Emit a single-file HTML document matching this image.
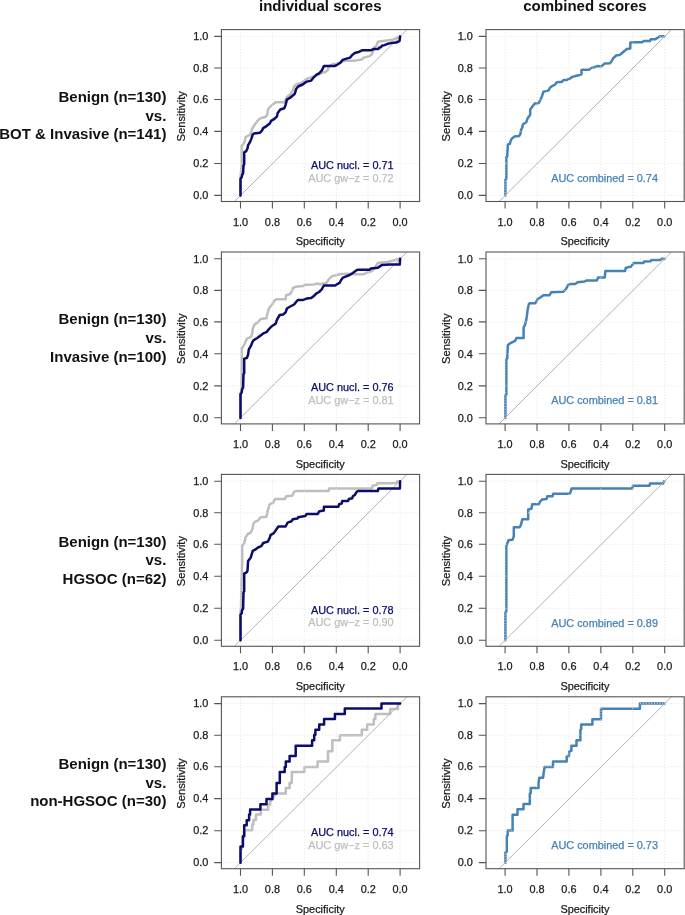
<!DOCTYPE html>
<html><head><meta charset="utf-8"><style>
html,body{margin:0;padding:0;background:#fff;}
svg{display:block;will-change:transform;}
text{font-family:"Liberation Sans",sans-serif;font-size:10.9px;fill:#1a1a1a;stroke:#1a1a1a;stroke-width:0.25px;}
.lab text{font-size:15px;font-weight:bold;text-anchor:end;fill:#111;stroke:none;}
.title{font-size:15px;font-weight:bold;fill:#111;stroke:none;}
.grid{fill:none;stroke:#e2e2e2;stroke-width:0.9;stroke-dasharray:1 1.8;}
.diag{fill:none;stroke:#b2b2b2;stroke-width:1.0;}
.frame{fill:none;stroke:#555;stroke-width:1.1;}
.tick{fill:none;stroke:#555;stroke-width:1.1;}
.cn{fill:none;stroke:#0c0c6c;stroke-width:2.5;stroke-linejoin:round;stroke-linecap:round;}
.cg{fill:none;stroke:#bebebe;stroke-width:2.5;stroke-linejoin:round;stroke-linecap:round;}
.cs{fill:none;stroke:#4682b4;stroke-width:2.5;stroke-linejoin:round;stroke-linecap:round;}
</style></head><body>
<svg width="685" height="915" viewBox="0 0 685 915">
<text class="title" x="320.3" y="10.7" text-anchor="middle">individual scores</text>
<text class="title" x="584.9" y="10.7" text-anchor="middle">combined scores</text>
<path class="cg" d="M240.5 195.5 240.5 178.0 241.6 165.0 241.6 145.8 243.5 143.9 244.9 140.6 245.5 137.3 247.5 136.0 250.1 134.7 251.4 132.1 252.1 128.8 254.1 125.5 256.0 122.9 258.0 120.2 260.6 118.3 265.2 117.0 267.2 115.0 267.8 110.1 269.8 106.9 273.1 104.2 275.7 102.3 284.3 102.3 286.9 97.0 290.2 94.4 292.8 90.4 294.1 86.5 296.8 83.9 300.7 83.2 307.3 78.6 311.2 77.3 320.0 74.0 322.6 72.7 325.3 72.0 327.9 70.0 328.5 67.4 330.5 65.4 333.1 64.1 336.0 64.0 340.0 62.5 342.3 61.5 345.0 60.8 354.2 60.8 356.8 60.2 362.0 59.5 363.4 57.6 369.3 56.2 371.9 54.3 373.2 51.0 373.9 47.7 376.5 45.7 377.8 41.8 383.1 41.1 392.3 39.8 396.9 37.9 400.1 36.4"/>
<g transform="translate(0.0 0.0)">
<path class="grid" d="M240.5 29.6V201.5M272.4 29.6V201.5M304.3 29.6V201.5M336.3 29.6V201.5M368.2 29.6V201.5M400.1 29.6V201.5M221.4 195.4H419.6M221.4 163.5H419.6M221.4 131.4H419.6M221.4 99.5H419.6M221.4 68H419.6M221.4 36.4H419.6"/>
<path class="diag" d="M234.48 201.5L406.92 29.6"/>
</g>
<path class="cn" d="M240.5 195.5 240.5 178.7 241.6 177.4 242.2 174.8 243.1 173.4 243.5 165.6 244.2 164.2 244.2 152.4 246.2 151.1 247.5 148.5 248.1 145.2 250.1 141.9 251.4 138.6 252.7 134.7 254.1 133.4 260.0 132.7 261.9 130.7 263.2 128.1 266.5 126.1 269.8 123.5 271.1 120.9 274.4 118.9 277.0 116.3 277.7 113.0 280.3 109.5 284.3 108.2 285.6 104.9 286.9 99.6 290.2 97.7 294.8 93.7 296.1 89.1 298.1 86.5 302.7 84.5 306.0 81.9 311.2 80.6 313.8 77.3 316.5 74.7 319.1 73.4 321.7 70.7 323.9 66.1 334.5 66.1 337.1 64.8 340.4 62.8 342.3 60.2 345.6 58.9 350.2 57.6 352.2 54.9 354.8 53.0 359.4 51.7 362.0 50.3 370.6 50.3 373.9 49.0 378.5 49.0 379.1 47.7 381.1 47.1 381.8 45.7 384.4 45.1 387.7 43.8 390.9 43.1 396.2 42.5 399.5 41.1 399.9 38.5 400.1 36.4"/>
<g transform="translate(0.0 0.0)">
<rect class="frame" x="221.4" y="29.6" width="198.2" height="171.9"/>
<path class="tick" d="M240.5 201.5V208.5M272.4 201.5V208.5M304.3 201.5V208.5M336.3 201.5V208.5M368.2 201.5V208.5M400.1 201.5V208.5M221.4 195.4H214.2M221.4 163.5H214.2M221.4 131.4H214.2M221.4 99.5H214.2M221.4 68H214.2M221.4 36.4H214.2"/>
<text x="240.5" y="225.6" text-anchor="middle">1.0</text>
<text x="272.4" y="225.6" text-anchor="middle">0.8</text>
<text x="304.3" y="225.6" text-anchor="middle">0.6</text>
<text x="336.3" y="225.6" text-anchor="middle">0.4</text>
<text x="368.2" y="225.6" text-anchor="middle">0.2</text>
<text x="400.1" y="225.6" text-anchor="middle">0.0</text>
<text x="208.3" y="199.2" text-anchor="end">0.0</text>
<text x="208.3" y="167.3" text-anchor="end">0.2</text>
<text x="208.3" y="135.2" text-anchor="end">0.4</text>
<text x="208.3" y="103.3" text-anchor="end">0.6</text>
<text x="208.3" y="71.8" text-anchor="end">0.8</text>
<text x="208.3" y="40.2" text-anchor="end">1.0</text>
<text x="320.3" y="245.4" text-anchor="middle">Specificity</text>
<text transform="translate(185.3 116.3) rotate(-90)" x="0" y="0" text-anchor="middle" style="font-size:11.2px">Sensitivity</text>
<text x="393.6" y="169.0" text-anchor="end" style="fill:#0c0c6c;stroke:#0c0c6c">AUC nucl. = 0.71</text>
<text x="393.6" y="181.6" text-anchor="end" style="fill:#bebebe;stroke:#bebebe">AUC gw−z = 0.72</text>
</g>
<path class="cs" d="M505.4 195.5 505.4 179.4 506.3 178.7 506.3 157.0 507.2 156.4 507.9 144.5 509.9 143.9 510.5 141.2 511.8 138.6 514.5 136.6 519.1 136.0 520.4 134.0 521.0 130.1 522.3 127.5 523.0 124.2 526.3 122.2 527.6 118.3 530.2 114.7 530.2 109.5 532.2 106.8 534.8 103.5 538.8 102.9 540.1 100.3 542.0 96.3 543.4 91.7 546.0 91.1 548.6 90.4 549.9 87.8 552.6 85.8 555.2 84.5 556.5 82.5 559.1 81.9 561.8 81.9 563.7 79.9 567.0 79.9 569.6 78.6 572.3 76.9 575.5 76.0 578.8 75.3 581.5 74.0 581.5 70.0 582.8 69.8 588.9 69.8 590.9 68.1 594.2 67.2 597.5 66.1 601.4 66.4 604.7 63.5 610.0 63.2 611.9 60.8 613.2 58.2 616.5 55.3 619.8 54.9 621.8 53.2 624.4 51.0 627.0 49.0 630.3 48.4 630.3 42.7 632.3 42.2 642.2 42.2 643.5 41.1 650.0 40.9 650.7 39.2 655.3 39.2 657.3 37.9 659.9 36.3 664.7 36.3"/>
<g transform="translate(264.6 0.0)">
<path class="grid" d="M240.5 29.6V201.5M272.4 29.6V201.5M304.3 29.6V201.5M336.3 29.6V201.5M368.2 29.6V201.5M400.1 29.6V201.5M221.4 195.4H419.6M221.4 163.5H419.6M221.4 131.4H419.6M221.4 99.5H419.6M221.4 68H419.6M221.4 36.4H419.6"/>
<path class="diag" d="M234.48 201.5L406.92 29.6"/>
</g>
<g transform="translate(264.6 0.0)">
<rect class="frame" x="221.4" y="29.6" width="198.2" height="171.9"/>
<path class="tick" d="M240.5 201.5V208.5M272.4 201.5V208.5M304.3 201.5V208.5M336.3 201.5V208.5M368.2 201.5V208.5M400.1 201.5V208.5M221.4 195.4H214.2M221.4 163.5H214.2M221.4 131.4H214.2M221.4 99.5H214.2M221.4 68H214.2M221.4 36.4H214.2"/>
<text x="240.5" y="225.6" text-anchor="middle">1.0</text>
<text x="272.4" y="225.6" text-anchor="middle">0.8</text>
<text x="304.3" y="225.6" text-anchor="middle">0.6</text>
<text x="336.3" y="225.6" text-anchor="middle">0.4</text>
<text x="368.2" y="225.6" text-anchor="middle">0.2</text>
<text x="400.1" y="225.6" text-anchor="middle">0.0</text>
<text x="208.3" y="199.2" text-anchor="end">0.0</text>
<text x="208.3" y="167.3" text-anchor="end">0.2</text>
<text x="208.3" y="135.2" text-anchor="end">0.4</text>
<text x="208.3" y="103.3" text-anchor="end">0.6</text>
<text x="208.3" y="71.8" text-anchor="end">0.8</text>
<text x="208.3" y="40.2" text-anchor="end">1.0</text>
<text x="320.3" y="245.4" text-anchor="middle">Specificity</text>
<text transform="translate(185.3 116.3) rotate(-90)" x="0" y="0" text-anchor="middle" style="font-size:11.2px">Sensitivity</text>
<text x="393.4" y="182.0" text-anchor="end" style="fill:#4682b4;stroke:#4682b4">AUC combined = 0.74</text>
</g>
<g class="lab" transform="translate(0 0.0)"><text x="166.4" y="101.8">Benign (n=130)</text><text x="166.4" y="120.5">vs.</text><text x="166.4" y="139.2">BOT &amp; Invasive (n=141)</text></g>
<path class="cg" d="M240.5 417.9 240.5 394.0 241.3 390.2 241.6 374.4 241.8 348.1 242.9 346.8 244.2 344.9 245.5 341.6 246.8 338.9 249.5 337.6 251.4 336.3 252.1 334.1 252.7 328.8 254.7 324.2 258.0 322.3 260.6 319.0 266.5 318.3 267.2 314.4 269.2 307.8 271.8 305.2 274.4 300.6 276.4 299.3 285.6 299.3 286.2 295.3 290.2 294.0 292.2 290.7 292.8 288.1 295.4 286.8 303.3 286.1 305.3 284.8 313.8 284.4 317.8 283.5 320.0 284.2 326.6 282.8 328.5 279.6 331.8 276.3 334.5 275.6 339.7 274.3 346.3 273.7 352.0 274.0 355.5 274.3 363.4 274.3 366.0 273.0 371.9 271.0 375.2 267.1 377.8 263.1 388.3 261.8 393.6 260.5 397.5 259.2 400.1 258.8"/>
<g transform="translate(0.0 222.4)">
<path class="grid" d="M240.5 29.6V201.5M272.4 29.6V201.5M304.3 29.6V201.5M336.3 29.6V201.5M368.2 29.6V201.5M400.1 29.6V201.5M221.4 195.4H419.6M221.4 163.5H419.6M221.4 131.4H419.6M221.4 99.5H419.6M221.4 68H419.6M221.4 36.4H419.6"/>
<path class="diag" d="M234.48 201.5L406.92 29.6"/>
</g>
<path class="cn" d="M240.5 417.9 240.5 394.1 241.6 392.8 242.2 388.9 243.1 387.6 243.5 374.4 244.2 373.1 244.2 358.6 246.8 358.0 248.1 354.7 248.8 349.5 250.8 346.2 252.1 342.9 253.4 340.3 257.3 338.0 260.6 335.4 263.2 333.4 266.5 332.1 269.2 328.8 271.8 326.2 275.7 323.6 277.0 319.6 279.7 315.0 283.0 314.4 285.6 312.4 286.9 308.5 290.2 306.5 294.1 304.5 296.1 301.9 298.1 299.9 303.3 299.9 306.6 298.6 311.2 298.0 313.8 296.0 316.5 293.4 319.1 292.0 321.7 289.4 323.9 285.5 335.1 285.5 337.1 284.2 339.7 282.8 341.0 280.2 343.0 277.6 346.3 276.3 349.6 275.0 352.8 273.0 355.5 271.0 357.4 269.7 369.3 269.7 371.2 268.4 377.8 267.7 379.8 266.4 381.8 265.1 389.6 264.5 399.8 264.5 400.1 258.8"/>
<g transform="translate(0.0 222.4)">
<rect class="frame" x="221.4" y="29.6" width="198.2" height="171.9"/>
<path class="tick" d="M240.5 201.5V208.5M272.4 201.5V208.5M304.3 201.5V208.5M336.3 201.5V208.5M368.2 201.5V208.5M400.1 201.5V208.5M221.4 195.4H214.2M221.4 163.5H214.2M221.4 131.4H214.2M221.4 99.5H214.2M221.4 68H214.2M221.4 36.4H214.2"/>
<text x="240.5" y="225.6" text-anchor="middle">1.0</text>
<text x="272.4" y="225.6" text-anchor="middle">0.8</text>
<text x="304.3" y="225.6" text-anchor="middle">0.6</text>
<text x="336.3" y="225.6" text-anchor="middle">0.4</text>
<text x="368.2" y="225.6" text-anchor="middle">0.2</text>
<text x="400.1" y="225.6" text-anchor="middle">0.0</text>
<text x="208.3" y="199.2" text-anchor="end">0.0</text>
<text x="208.3" y="167.3" text-anchor="end">0.2</text>
<text x="208.3" y="135.2" text-anchor="end">0.4</text>
<text x="208.3" y="103.3" text-anchor="end">0.6</text>
<text x="208.3" y="71.8" text-anchor="end">0.8</text>
<text x="208.3" y="40.2" text-anchor="end">1.0</text>
<text x="320.3" y="245.4" text-anchor="middle">Specificity</text>
<text transform="translate(185.3 116.3) rotate(-90)" x="0" y="0" text-anchor="middle" style="font-size:11.2px">Sensitivity</text>
<text x="393.6" y="169.0" text-anchor="end" style="fill:#0c0c6c;stroke:#0c0c6c">AUC nucl. = 0.76</text>
<text x="393.6" y="181.6" text-anchor="end" style="fill:#bebebe;stroke:#bebebe">AUC gw−z = 0.81</text>
</g>
<path class="cs" d="M505.4 417.9 505.4 395.4 506.3 394.8 506.3 359.3 507.2 358.6 507.9 344.9 509.2 343.9 512.5 342.2 515.1 340.9 516.4 338.0 523.6 338.0 523.6 327.5 525.0 324.9 526.3 319.6 526.9 315.7 527.6 309.8 528.9 303.9 530.2 303.2 535.5 303.2 537.4 299.3 540.7 297.3 543.4 295.3 549.3 295.3 551.2 292.3 563.1 291.8 565.7 289.4 568.3 284.8 570.3 283.9 575.5 283.9 577.5 282.2 584.7 281.5 586.3 280.6 596.8 280.6 598.1 277.6 604.7 277.6 605.4 271.0 625.1 271.0 625.7 268.0 628.4 267.1 631.0 266.8 633.6 263.1 643.5 262.9 644.1 261.6 650.7 261.2 651.3 259.9 660.5 259.9 661.2 258.7 664.7 258.7"/>
<g transform="translate(264.6 222.4)">
<path class="grid" d="M240.5 29.6V201.5M272.4 29.6V201.5M304.3 29.6V201.5M336.3 29.6V201.5M368.2 29.6V201.5M400.1 29.6V201.5M221.4 195.4H419.6M221.4 163.5H419.6M221.4 131.4H419.6M221.4 99.5H419.6M221.4 68H419.6M221.4 36.4H419.6"/>
<path class="diag" d="M234.48 201.5L406.92 29.6"/>
</g>
<g transform="translate(264.6 222.4)">
<rect class="frame" x="221.4" y="29.6" width="198.2" height="171.9"/>
<path class="tick" d="M240.5 201.5V208.5M272.4 201.5V208.5M304.3 201.5V208.5M336.3 201.5V208.5M368.2 201.5V208.5M400.1 201.5V208.5M221.4 195.4H214.2M221.4 163.5H214.2M221.4 131.4H214.2M221.4 99.5H214.2M221.4 68H214.2M221.4 36.4H214.2"/>
<text x="240.5" y="225.6" text-anchor="middle">1.0</text>
<text x="272.4" y="225.6" text-anchor="middle">0.8</text>
<text x="304.3" y="225.6" text-anchor="middle">0.6</text>
<text x="336.3" y="225.6" text-anchor="middle">0.4</text>
<text x="368.2" y="225.6" text-anchor="middle">0.2</text>
<text x="400.1" y="225.6" text-anchor="middle">0.0</text>
<text x="208.3" y="199.2" text-anchor="end">0.0</text>
<text x="208.3" y="167.3" text-anchor="end">0.2</text>
<text x="208.3" y="135.2" text-anchor="end">0.4</text>
<text x="208.3" y="103.3" text-anchor="end">0.6</text>
<text x="208.3" y="71.8" text-anchor="end">0.8</text>
<text x="208.3" y="40.2" text-anchor="end">1.0</text>
<text x="320.3" y="245.4" text-anchor="middle">Specificity</text>
<text transform="translate(185.3 116.3) rotate(-90)" x="0" y="0" text-anchor="middle" style="font-size:11.2px">Sensitivity</text>
<text x="393.4" y="182.0" text-anchor="end" style="fill:#4682b4;stroke:#4682b4">AUC combined = 0.81</text>
</g>
<g class="lab" transform="translate(0 222.4)"><text x="166.4" y="101.8">Benign (n=130)</text><text x="166.4" y="120.5">vs.</text><text x="166.4" y="139.2">Invasive (n=100)</text></g>
<path class="cg" d="M240.5 640.3 240.5 612.0 241.0 608.0 241.5 580.0 242.2 561.3 242.2 545.6 244.2 543.6 245.5 537.7 247.5 534.4 250.8 532.4 252.7 528.5 253.4 523.9 254.7 521.9 258.0 520.6 260.6 517.3 266.5 516.7 267.2 512.7 268.5 508.1 269.8 504.2 273.1 502.9 275.1 498.9 284.9 498.9 286.2 496.3 292.2 495.7 294.1 491.7 296.1 491.1 328.5 491.1 329.2 488.4 371.9 488.4 372.6 485.8 376.5 485.1 377.2 483.2 396.2 483.2 396.9 481.5 400.1 481.2"/>
<g transform="translate(0.0 444.8)">
<path class="grid" d="M240.5 29.6V201.5M272.4 29.6V201.5M304.3 29.6V201.5M336.3 29.6V201.5M368.2 29.6V201.5M400.1 29.6V201.5M221.4 195.4H419.6M221.4 163.5H419.6M221.4 131.4H419.6M221.4 99.5H419.6M221.4 68H419.6M221.4 36.4H419.6"/>
<path class="diag" d="M234.48 201.5L406.92 29.6"/>
</g>
<path class="cn" d="M240.5 640.3 240.5 614.8 241.6 613.5 242.2 609.6 243.1 608.9 243.5 592.5 244.2 591.2 244.2 573.4 246.2 572.8 247.5 570.8 248.1 560.9 250.8 557.4 252.7 550.8 255.4 549.5 258.0 547.5 261.3 546.2 263.2 543.0 267.8 541.6 269.8 537.7 270.5 535.1 273.8 533.1 277.0 528.5 278.4 526.5 285.6 526.5 287.6 522.6 291.5 521.3 292.8 519.3 297.4 518.6 298.1 517.3 305.3 516.0 306.6 514.0 317.8 514.0 319.1 511.4 321.0 511.0 323.9 510.5 323.9 506.8 338.4 506.8 339.1 504.2 341.7 503.5 342.3 500.9 348.2 500.9 348.9 498.9 352.2 498.3 352.8 496.3 354.8 495.0 356.8 491.7 358.1 491.1 377.8 491.1 378.5 488.4 399.9 488.4 400.1 481.2"/>
<g transform="translate(0.0 444.8)">
<rect class="frame" x="221.4" y="29.6" width="198.2" height="171.9"/>
<path class="tick" d="M240.5 201.5V208.5M272.4 201.5V208.5M304.3 201.5V208.5M336.3 201.5V208.5M368.2 201.5V208.5M400.1 201.5V208.5M221.4 195.4H214.2M221.4 163.5H214.2M221.4 131.4H214.2M221.4 99.5H214.2M221.4 68H214.2M221.4 36.4H214.2"/>
<text x="240.5" y="225.6" text-anchor="middle">1.0</text>
<text x="272.4" y="225.6" text-anchor="middle">0.8</text>
<text x="304.3" y="225.6" text-anchor="middle">0.6</text>
<text x="336.3" y="225.6" text-anchor="middle">0.4</text>
<text x="368.2" y="225.6" text-anchor="middle">0.2</text>
<text x="400.1" y="225.6" text-anchor="middle">0.0</text>
<text x="208.3" y="199.2" text-anchor="end">0.0</text>
<text x="208.3" y="167.3" text-anchor="end">0.2</text>
<text x="208.3" y="135.2" text-anchor="end">0.4</text>
<text x="208.3" y="103.3" text-anchor="end">0.6</text>
<text x="208.3" y="71.8" text-anchor="end">0.8</text>
<text x="208.3" y="40.2" text-anchor="end">1.0</text>
<text x="320.3" y="245.4" text-anchor="middle">Specificity</text>
<text transform="translate(185.3 116.3) rotate(-90)" x="0" y="0" text-anchor="middle" style="font-size:11.2px">Sensitivity</text>
<text x="393.6" y="169.0" text-anchor="end" style="fill:#0c0c6c;stroke:#0c0c6c">AUC nucl. = 0.78</text>
<text x="393.6" y="181.6" text-anchor="end" style="fill:#bebebe;stroke:#bebebe">AUC gw−z = 0.90</text>
</g>
<path class="cs" d="M505.4 640.3 505.4 612.2 506.3 611.5 506.3 546.2 507.2 543.6 508.5 540.3 512.5 539.7 513.8 536.4 513.8 527.2 519.7 527.2 521.0 524.6 522.3 519.3 528.2 519.3 528.2 509.4 531.5 508.8 532.2 504.2 538.8 504.2 540.1 501.6 542.0 499.6 546.6 498.9 547.3 496.3 552.6 496.3 553.2 493.7 569.6 493.7 570.9 491.1 571.6 488.4 632.3 488.4 633.0 485.8 649.4 485.8 650.0 483.6 663.2 483.6 663.8 481.4 664.7 481.2"/>
<g transform="translate(264.6 444.8)">
<path class="grid" d="M240.5 29.6V201.5M272.4 29.6V201.5M304.3 29.6V201.5M336.3 29.6V201.5M368.2 29.6V201.5M400.1 29.6V201.5M221.4 195.4H419.6M221.4 163.5H419.6M221.4 131.4H419.6M221.4 99.5H419.6M221.4 68H419.6M221.4 36.4H419.6"/>
<path class="diag" d="M234.48 201.5L406.92 29.6"/>
</g>
<g transform="translate(264.6 444.8)">
<rect class="frame" x="221.4" y="29.6" width="198.2" height="171.9"/>
<path class="tick" d="M240.5 201.5V208.5M272.4 201.5V208.5M304.3 201.5V208.5M336.3 201.5V208.5M368.2 201.5V208.5M400.1 201.5V208.5M221.4 195.4H214.2M221.4 163.5H214.2M221.4 131.4H214.2M221.4 99.5H214.2M221.4 68H214.2M221.4 36.4H214.2"/>
<text x="240.5" y="225.6" text-anchor="middle">1.0</text>
<text x="272.4" y="225.6" text-anchor="middle">0.8</text>
<text x="304.3" y="225.6" text-anchor="middle">0.6</text>
<text x="336.3" y="225.6" text-anchor="middle">0.4</text>
<text x="368.2" y="225.6" text-anchor="middle">0.2</text>
<text x="400.1" y="225.6" text-anchor="middle">0.0</text>
<text x="208.3" y="199.2" text-anchor="end">0.0</text>
<text x="208.3" y="167.3" text-anchor="end">0.2</text>
<text x="208.3" y="135.2" text-anchor="end">0.4</text>
<text x="208.3" y="103.3" text-anchor="end">0.6</text>
<text x="208.3" y="71.8" text-anchor="end">0.8</text>
<text x="208.3" y="40.2" text-anchor="end">1.0</text>
<text x="320.3" y="245.4" text-anchor="middle">Specificity</text>
<text transform="translate(185.3 116.3) rotate(-90)" x="0" y="0" text-anchor="middle" style="font-size:11.2px">Sensitivity</text>
<text x="393.4" y="182.0" text-anchor="end" style="fill:#4682b4;stroke:#4682b4">AUC combined = 0.89</text>
</g>
<g class="lab" transform="translate(0 444.8)"><text x="166.4" y="101.8">Benign (n=130)</text><text x="166.4" y="120.5">vs.</text><text x="166.4" y="139.2">HGSOC (n=62)</text></g>
<path class="cg" d="M240.5 862.7 240.5 850.0 241.7 849.0 241.7 846.6 242.9 846.6 242.9 836.3 244.2 836.3 244.2 830.2 252.2 830.2 252.2 824.4 253.4 824.4 253.4 819.9 255.9 819.9 255.9 814.6 260.8 814.6 260.8 809.7 268.1 809.7 268.1 804.6 270.2 804.6 270.2 801.5 272.4 799.5 274.0 796.0 276.8 793.4 285.8 793.4 285.8 787.9 289.6 787.9 289.6 783.0 291.8 783.0 291.8 772.0 304.4 772.0 304.4 767.1 317.6 767.1 317.6 761.6 328.0 761.6 328.0 751.2 332.3 751.2 332.3 740.2 339.9 740.2 339.9 735.3 361.8 735.3 361.8 729.8 367.2 729.8 367.2 724.4 373.8 724.4 373.8 718.9 375.4 718.9 375.4 714.0 390.2 714.0 390.2 709.0 397.9 709.0 397.9 705.2 400.1 703.6"/>
<g transform="translate(0.0 667.2)">
<path class="grid" d="M240.5 29.6V201.5M272.4 29.6V201.5M304.3 29.6V201.5M336.3 29.6V201.5M368.2 29.6V201.5M400.1 29.6V201.5M221.4 195.4H419.6M221.4 163.5H419.6M221.4 131.4H419.6M221.4 99.5H419.6M221.4 68H419.6M221.4 36.4H419.6"/>
<path class="diag" d="M234.48 201.5L406.92 29.6"/>
</g>
<path class="cn" d="M240.5 862.7 240.5 846.6 242.9 846.6 242.9 836.3 244.2 836.3 244.2 825.2 246.7 825.2 246.7 820.2 249.1 820.2 249.1 814.6 250.1 814.6 250.1 809.5 260.4 809.5 260.4 804.3 266.5 804.3 266.5 798.9 272.4 798.9 272.4 793.5 276.6 793.5 276.6 783.0 279.8 783.0 279.8 772.0 284.7 772.0 284.7 767.1 285.8 767.1 285.8 761.6 289.6 761.6 289.6 756.1 295.7 756.1 295.7 745.7 312.1 745.7 312.1 740.2 314.2 740.2 314.2 734.8 315.4 734.8 315.4 729.8 319.2 729.8 319.2 724.4 324.1 724.4 324.1 719.1 334.9 719.1 334.9 714.0 344.8 714.0 344.8 708.5 381.5 708.5 381.5 703.6 400.1 703.6"/>
<g transform="translate(0.0 667.2)">
<rect class="frame" x="221.4" y="29.6" width="198.2" height="171.9"/>
<path class="tick" d="M240.5 201.5V208.5M272.4 201.5V208.5M304.3 201.5V208.5M336.3 201.5V208.5M368.2 201.5V208.5M400.1 201.5V208.5M221.4 195.4H214.2M221.4 163.5H214.2M221.4 131.4H214.2M221.4 99.5H214.2M221.4 68H214.2M221.4 36.4H214.2"/>
<text x="240.5" y="225.6" text-anchor="middle">1.0</text>
<text x="272.4" y="225.6" text-anchor="middle">0.8</text>
<text x="304.3" y="225.6" text-anchor="middle">0.6</text>
<text x="336.3" y="225.6" text-anchor="middle">0.4</text>
<text x="368.2" y="225.6" text-anchor="middle">0.2</text>
<text x="400.1" y="225.6" text-anchor="middle">0.0</text>
<text x="208.3" y="199.2" text-anchor="end">0.0</text>
<text x="208.3" y="167.3" text-anchor="end">0.2</text>
<text x="208.3" y="135.2" text-anchor="end">0.4</text>
<text x="208.3" y="103.3" text-anchor="end">0.6</text>
<text x="208.3" y="71.8" text-anchor="end">0.8</text>
<text x="208.3" y="40.2" text-anchor="end">1.0</text>
<text x="320.3" y="245.4" text-anchor="middle">Specificity</text>
<text transform="translate(185.3 116.3) rotate(-90)" x="0" y="0" text-anchor="middle" style="font-size:11.2px">Sensitivity</text>
<text x="393.6" y="169.0" text-anchor="end" style="fill:#0c0c6c;stroke:#0c0c6c">AUC nucl. = 0.74</text>
<text x="393.6" y="181.6" text-anchor="end" style="fill:#bebebe;stroke:#bebebe">AUC gw−z = 0.63</text>
</g>
<path class="cs" d="M505.4 862.7 505.4 852.3 506.8 851.7 506.8 836.4 507.7 835.3 507.7 830.6 512.6 830.6 512.6 814.8 517.5 814.8 517.5 809.3 523.5 809.3 523.5 803.9 529.8 803.9 529.8 793.7 530.7 793.2 530.7 787.9 538.5 787.9 538.5 783.3 539.3 777.8 543.1 777.8 543.7 772.5 544.6 767.1 553.0 767.1 553.0 761.6 566.7 761.6 566.7 756.7 568.9 756.1 569.4 751.2 571.4 750.7 571.4 745.7 576.5 745.7 576.5 740.2 580.4 740.2 580.4 729.8 581.2 729.3 581.2 724.4 592.4 724.4 592.4 719.3 601.0 719.3 601.0 708.7 639.9 708.7 639.9 703.4 664.7 703.4"/>
<g transform="translate(264.6 667.2)">
<path class="grid" d="M240.5 29.6V201.5M272.4 29.6V201.5M304.3 29.6V201.5M336.3 29.6V201.5M368.2 29.6V201.5M400.1 29.6V201.5M221.4 195.4H419.6M221.4 163.5H419.6M221.4 131.4H419.6M221.4 99.5H419.6M221.4 68H419.6M221.4 36.4H419.6"/>
<path class="diag" d="M234.48 201.5L406.92 29.6"/>
</g>
<g transform="translate(264.6 667.2)">
<rect class="frame" x="221.4" y="29.6" width="198.2" height="171.9"/>
<path class="tick" d="M240.5 201.5V208.5M272.4 201.5V208.5M304.3 201.5V208.5M336.3 201.5V208.5M368.2 201.5V208.5M400.1 201.5V208.5M221.4 195.4H214.2M221.4 163.5H214.2M221.4 131.4H214.2M221.4 99.5H214.2M221.4 68H214.2M221.4 36.4H214.2"/>
<text x="240.5" y="225.6" text-anchor="middle">1.0</text>
<text x="272.4" y="225.6" text-anchor="middle">0.8</text>
<text x="304.3" y="225.6" text-anchor="middle">0.6</text>
<text x="336.3" y="225.6" text-anchor="middle">0.4</text>
<text x="368.2" y="225.6" text-anchor="middle">0.2</text>
<text x="400.1" y="225.6" text-anchor="middle">0.0</text>
<text x="208.3" y="199.2" text-anchor="end">0.0</text>
<text x="208.3" y="167.3" text-anchor="end">0.2</text>
<text x="208.3" y="135.2" text-anchor="end">0.4</text>
<text x="208.3" y="103.3" text-anchor="end">0.6</text>
<text x="208.3" y="71.8" text-anchor="end">0.8</text>
<text x="208.3" y="40.2" text-anchor="end">1.0</text>
<text x="320.3" y="245.4" text-anchor="middle">Specificity</text>
<text transform="translate(185.3 116.3) rotate(-90)" x="0" y="0" text-anchor="middle" style="font-size:11.2px">Sensitivity</text>
<text x="393.4" y="182.0" text-anchor="end" style="fill:#4682b4;stroke:#4682b4">AUC combined = 0.73</text>
</g>
<g class="lab" transform="translate(0 667.2)"><text x="166.4" y="101.8">Benign (n=130)</text><text x="166.4" y="120.5">vs.</text><text x="166.4" y="139.2">non-HGSOC (n=30)</text></g>
</svg>
</body></html>
